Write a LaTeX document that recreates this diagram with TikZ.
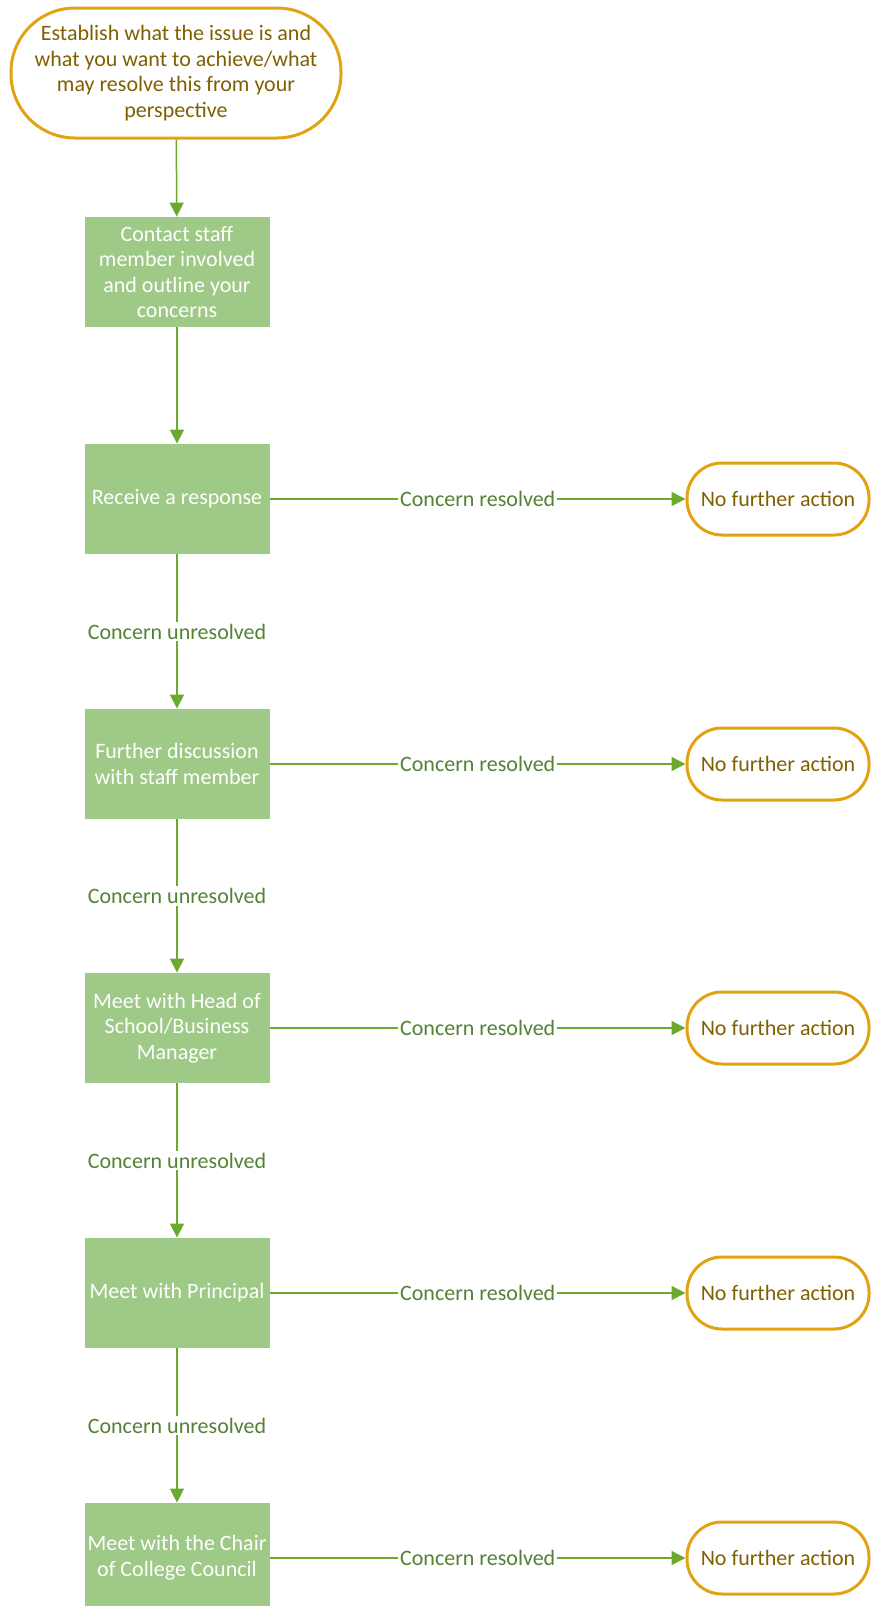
\documentclass[tikz,border=0pt]{standalone}
\usepackage{fontspec}
\setmainfont{Carlito}
\usetikzlibrary{arrows.meta}
\definecolor{boxgreen}{RGB}{158,201,134}
\definecolor{linegreen}{RGB}{108,170,46}
\definecolor{labelgreen}{RGB}{84,130,53}
\definecolor{termgold}{RGB}{225,163,18}
\definecolor{termbrown}{RGB}{127,96,0}

\begin{document}
\begin{tikzpicture}[x=0.5pt, y=-0.5pt, font=\fontsize{11}{12.8}\selectfont,
	step_box/.style={rectangle, fill=boxgreen, text=white, minimum width=92.5pt, minimum height=55pt, inner sep=1pt, align=center},
	end_node/.style={rectangle, rounded corners=17.5pt, draw=termgold, line width=1.5pt, text=termbrown, minimum width=91pt, minimum height=36pt, inner sep=2pt, align=center},
	flow/.style={draw=linegreen, line width=0.75pt, -{Triangle[length=7pt, width=7pt]}},
	flow_label/.style={fill=white, text=labelgreen, inner sep=1pt}]
				\useasboundingbox (0,0) rectangle (871,1606);
				\node[end_node, rounded corners=32pt, minimum width=165pt, minimum height=65pt](start) at (176,73){Establish what the issue is and\\what you want to achieve/what\\may resolve this from your\\perspective};
				\node[step_box](contact) at (177,272){Contact staff\\member involved\\and outline your\\concerns};
				\node[step_box](receive) at (177,499){Receive a response};
				\node[step_box](discuss) at (177,764){Further discussion\\with staff member};
				\node[step_box](head) at (177,1028){Meet with Head of\\School/Business\\Manager};
				\node[step_box](principal) at (177,1293){Meet with Principal};
				\node[step_box](chair) at (177,1558){Meet with the Chair\\of College Council};
				\node[end_node](done1) at (778,499){No further action};
				\node[end_node](done2) at (778,764){No further action};
				\node[end_node](done3) at (778,1028){No further action};
				\node[end_node](done4) at (778,1293){No further action};
				\node[end_node](done5) at (778,1558){No further action};
				\draw[flow](start) -- (contact);
				\draw[flow](contact) -- (receive);
				\draw[flow](receive) -- node[flow_label]{Concern unresolved} (discuss);
				\draw[flow](discuss) -- node[flow_label]{Concern unresolved} (head);
				\draw[flow](head) -- node[flow_label]{Concern unresolved} (principal);
				\draw[flow](principal) -- node[flow_label]{Concern unresolved} (chair);
				\draw[flow](receive) -- node[flow_label]{Concern resolved} (done1);
				\draw[flow](discuss) -- node[flow_label]{Concern resolved} (done2);
				\draw[flow](head) -- node[flow_label]{Concern resolved} (done3);
				\draw[flow](principal) -- node[flow_label]{Concern resolved} (done4);
				\draw[flow](chair) -- node[flow_label]{Concern resolved} (done5);
			\end{tikzpicture}
\end{document}
